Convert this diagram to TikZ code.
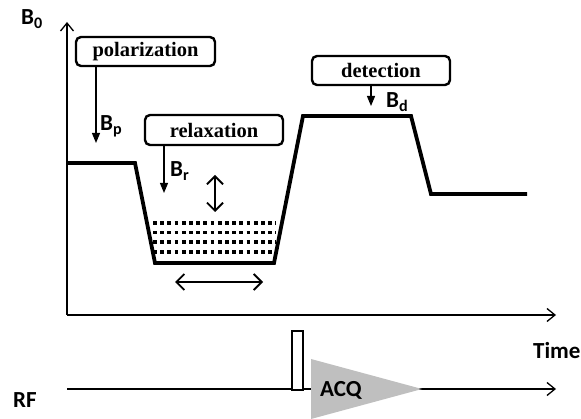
\documentclass[tikz,border=0pt]{standalone}
\usepackage{fontspec}
\setmainfont{Liberation Serif}
\newfontfamily\calfont{Carlito}
\usetikzlibrary{arrows.meta}
\tikzset{
  phasebox/.style={draw, line width=2.4pt, rounded corners=5pt, inner sep=0pt,
    font=\fontsize{20.5}{24}\selectfont\bfseries},
  axisline/.style={line width=1.3pt, -{Straight Barb[length=8pt,width=13pt]}},
  fieldarrow/.style={line width=1.2pt, -{Triangle[length=10pt,width=8pt]}},
  twoway/.style={line width=1.8pt, {Straight Barb[length=8pt,width=16pt]}-{Straight Barb[length=8pt,width=16pt]}},
  trace/.style={line width=3.8pt, line join=miter},
  sanslabel/.style={inner sep=0pt, anchor=base west, font=\calfont\fontsize{23}{27}\selectfont\bfseries},
  dotrow/.style={line width=3.6pt, dash pattern=on 3.8pt off 3.4pt},
}
\begin{document}
\begin{tikzpicture}[x=1pt,y=-1pt]
\useasboundingbox (0,0) rectangle (581,419);
\begin{scope}
\clip (0,0) rectangle (581,419);
% axes
\coordinate (O) at (67,315);
\coordinate (ytop) at (67,22);
\coordinate (xend) at (556,315);
\coordinate (rf0) at (67,389);
\coordinate (rfend) at (556,389);
\draw[axisline] (O) -- (ytop);
\draw[axisline] (O) -- (xend);
\draw[axisline] (rf0) -- (rfend);

% field trace
\draw[trace] (67,163) -- (135,163) -- (155,263) -- (274,263) -- (303,116) -- (411,116) -- (431,194) -- (527,194);

% dotted rows
\foreach \yy in {223,232.5,242,252}
  \draw[dotrow] (153,\yy) -- (276,\yy);

% double arrows
\coordinate (va) at (215,175);
\coordinate (vb) at (215,212);
\draw[twoway] (va) -- (vb);
\coordinate (ha) at (175,282);
\coordinate (hb) at (263,282);
\draw[twoway] (ha) -- (hb);

% phase boxes
\node[phasebox, minimum width=139pt, minimum height=29pt] (pol) at (145.5,51.5) {polarization};
\node[phasebox, minimum width=138pt, minimum height=30pt] (rel) at (214,130) {relaxation};
\node[phasebox, minimum width=138pt, minimum height=29pt] (det) at (381,70.5) {detection};

% field arrows
\coordinate (bptip) at (96,143);
\coordinate (brtip) at (164,193);
\coordinate (bdtip) at (371,106);
\draw[fieldarrow] (pol.south -| bptip) -- (bptip);
\draw[fieldarrow] (rel.south -| brtip) -- (brtip);
\draw[fieldarrow] (det.south -| bdtip) -- (bdtip);

% labels
\node[sanslabel] (b0) at (21,25) {B\textsubscript{0}};
\node[sanslabel] (bp) at (100,131) {B\textsubscript{p}};
\node[sanslabel] (br) at (170,177) {B\textsubscript{r}};
\node[sanslabel] (bd) at (386,108) {B\textsubscript{d}};
\node[sanslabel] (rf) at (13,407) {RF};
\node[sanslabel] (time) at (533,359) {Time};

% RF pulse and acquisition
\draw[line width=1.5pt, fill=white] (292,331) rectangle (303,390);
\fill[fill={rgb,255:red,191;green,191;blue,191}] (311,359) -- (422,389) -- (311,419) -- cycle;
\node[sanslabel] (acq) at (320,397) {ACQ};
\end{scope}
\end{tikzpicture}
\end{document}
